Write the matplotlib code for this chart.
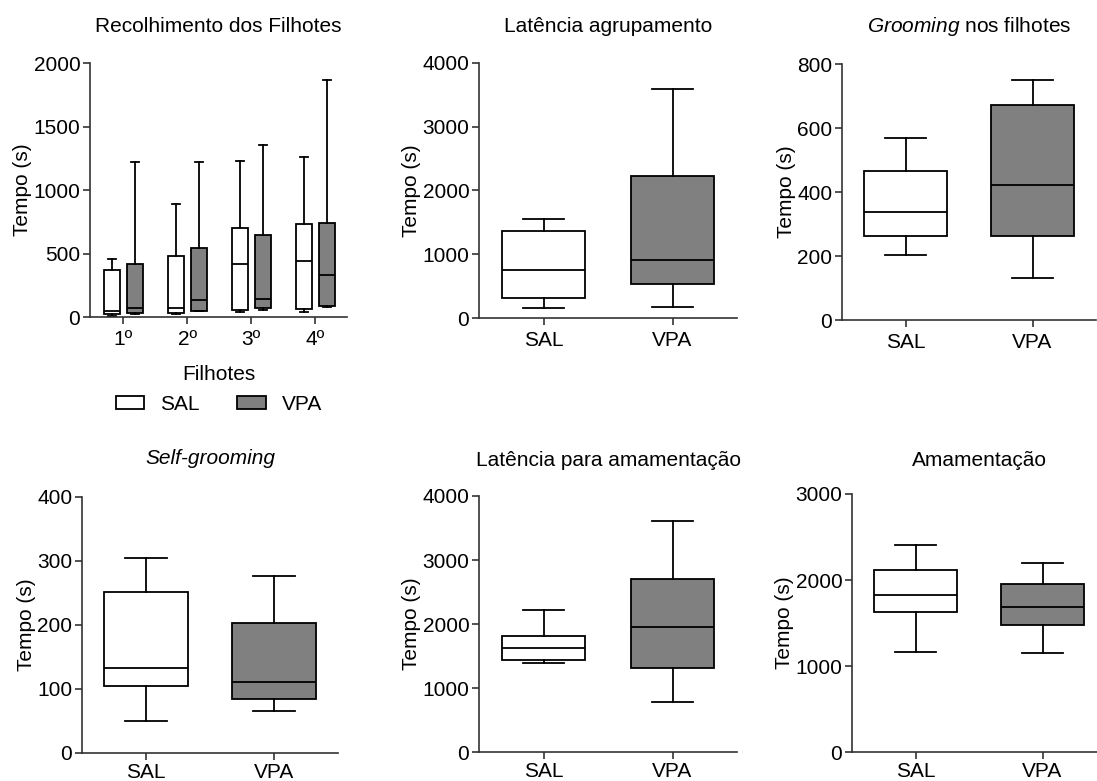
import matplotlib
matplotlib.use('Agg')
import matplotlib.pyplot as plt
from matplotlib.patches import Patch

plt.rcParams['font.family'] = ['Liberation Sans', 'DejaVu Sans']
plt.rcParams['mathtext.fontset'] = 'custom'
plt.rcParams['mathtext.rm'] = 'Liberation Sans'
plt.rcParams['mathtext.it'] = 'Liberation Sans:italic'
plt.rcParams['font.size'] = 15

# --- data: (whisker low, q1, median, q3, whisker high) ---
filhotes = ['1º', '2º', '3º', '4º']
recolh_sal = [[5, 21, 47, 373, 459],
              [21, 31, 71, 480, 892],
              [39, 52, 417, 703, 1228],
              [39, 63, 444, 732, 1260]]
recolh_vpa = [[26, 31, 73, 415, 1220],
              [45, 45, 131, 546, 1220],
              [52, 73, 144, 648, 1357],
              [76, 87, 328, 740, 1869]]

grupos = ['SAL', 'VPA']
lat_agrup = [[156, 308, 746, 1361, 1549],
             [167, 537, 902, 2227, 3593]]
grooming = [[202, 261, 336, 467, 570],
            [131, 261, 421, 672, 751]]
self_groom = [[50, 105, 133, 252, 305],
              [66, 85, 111, 203, 276]]
lat_amam = [[1387, 1439, 1632, 1810, 2216],
            [777, 1309, 1956, 2696, 3609]]
amamentacao = [[1162, 1628, 1823, 2122, 2405],
               [1154, 1477, 1690, 1959, 2196]]

W, H = 1097, 781
fig = plt.figure(figsize=(W / 100, H / 100), dpi=100)

cores = ['white', '#808080']
spine_col = '#333333'


def make_ax(x0, x1, ytop, ybot, xpad=4):
    ax = fig.add_axes([x0 / W, 1 - ybot / H, (x1 - x0) / W, (ybot - ytop) / H])
    ax.spines['top'].set_visible(False)
    ax.spines['right'].set_visible(False)
    for s in ['left', 'bottom']:
        ax.spines[s].set_color(spine_col)
        ax.spines[s].set_linewidth(1.2)
    ax.tick_params(direction='out', length=5, width=1.2, color=spine_col, pad=2)
    ax.tick_params(axis='x', pad=xpad)
    ax.set_ylabel('Tempo (s)', labelpad=1)
    return ax


def stats(v):
    return dict(whislo=v[0], q1=v[1], med=v[2], q3=v[3], whishi=v[4], fliers=[])


def boxes(ax, data, pos, width):
    for d, p, c in zip(data, pos, cores):
        ax.bxp([stats(d)], positions=[p], widths=width, patch_artist=True,
               showfliers=False, manage_ticks=False,
               boxprops=dict(facecolor=c, edgecolor='black', linewidth=1.3),
               medianprops=dict(color='black', linewidth=1.3),
               whiskerprops=dict(color='black', linewidth=1.3),
               capprops=dict(color='black', linewidth=1.3))


def painel2(ax, data, ymax, step):
    boxes(ax, data, [0, 1], 0.65)
    ax.set_xlim(-0.5, 1.5)
    ax.set_xticks([0, 1])
    ax.set_xticklabels(grupos)
    ax.set_ylim(0, ymax)
    ax.set_yticks(range(0, ymax + 1, step))


# Recolhimento dos filhotes
ax1 = make_ax(90, 347, 63, 317)
for i in range(len(filhotes)):
    boxes(ax1, [recolh_sal[i], recolh_vpa[i]], [i - 0.18, i + 0.18], 0.25)
ax1.set_xlim(-0.52, 3.5)
ax1.set_xticks(range(len(filhotes)))
ax1.set_xticklabels(filhotes)
ax1.set_ylim(0, 2000)
ax1.set_yticks(range(0, 2001, 500))
ax1.set_xlabel('Filhotes', labelpad=12)
fig.legend(handles=[Patch(facecolor=c, edgecolor='black', linewidth=1.3, label=g)
                    for c, g in zip(cores, grupos)],
           loc='center', bbox_to_anchor=(219 / W, 1 - 404 / H), ncol=2, frameon=False,
           handlelength=1.35, handleheight=0.6, handletextpad=0.8, columnspacing=1.8)

ax2 = make_ax(479, 737, 63, 318)
painel2(ax2, lat_agrup, 4000, 1000)
ax3 = make_ax(842, 1096, 64, 320)
painel2(ax3, grooming, 800, 200)
ax4 = make_ax(82, 338, 497, 753, xpad=2)
painel2(ax4, self_groom, 400, 100)
ax5 = make_ax(479, 737, 496, 752, xpad=2)
painel2(ax5, lat_amam, 4000, 1000)
ax6 = make_ax(852, 1106, 494, 752, xpad=2)
painel2(ax6, amamentacao, 3000, 1000)

# titles
titulos = [(ax1, 'Recolhimento dos Filhotes', 'normal', 27),
           (ax2, 'Latência agrupamento', 'normal', 27),
           (ax3, r'$\it{Grooming}$ nos filhotes', 'normal', 27),
           (ax4, 'Self-grooming', 'italic', 459),
           (ax5, 'Latência para amamentação', 'normal', 460),
           (ax6, 'Amamentação', 'normal', 460)]
for ax, t, st, y in titulos:
    bb = ax.get_position()
    fig.text((bb.x0 + bb.x1) / 2, 1 - y / H, t, ha='center', va='center', fontstyle=st)

fig.savefig('out.png', dpi=100)
